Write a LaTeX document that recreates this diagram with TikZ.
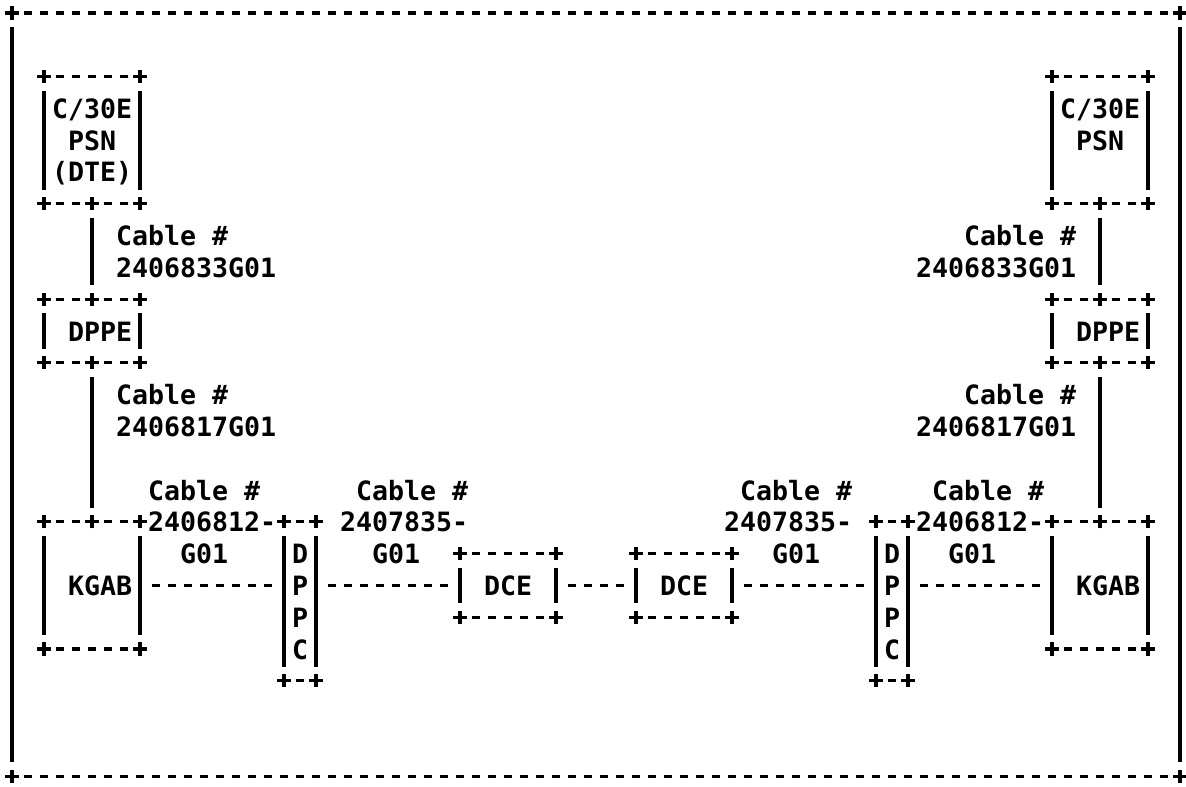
\documentclass[tikz,border=0pt]{standalone}
\usepackage{fontspec}
\newfontfamily\asc{DejaVu Sans Mono}
\tikzset{
  bxn/.style={draw=none,inner sep=0pt,outer sep=0pt,rectangle},
  hd/.style={line width=1.6pt,dash pattern=on 4pt off 4pt,shorten <=6pt,shorten >=6pt},
  vb/.style={line width=1.7pt,shorten <=7pt,shorten >=7pt},
  pmk/.style={line width=1.6pt},
  txt/.style={inner sep=0pt,outer sep=0pt,anchor=base west,font=\asc\bfseries\fontsize{13.3pt}{16pt}\selectfont}
}
% columns: x = 12 + 16 c ; rows: y = 13 + 31.8 r  (pixels, y downwards)
\newcommand\bx[5]{\node[bxn,minimum width={(#3-#2)*8pt},minimum height={(#5-#4)*15.9pt}] (#1) at ({12+8*(#2+#3)},{13+15.9*(#4+#5)}) {};}
\newcommand\plusat[1]{\draw[pmk] ([xshift=-3.3pt]#1) -- ([xshift=3.3pt]#1) ([yshift=-3.3pt]#1) -- ([yshift=3.3pt]#1);}
\newcommand\outl[1]{%
  \draw[hd] (#1.north west) -- (#1.north east);
  \draw[hd] (#1.south west) -- (#1.south east);
  \draw[vb] (#1.north west) -- (#1.south west);
  \draw[vb] (#1.north east) -- (#1.south east);
  \plusat{#1.north west}\plusat{#1.north east}\plusat{#1.south west}\plusat{#1.south east}}
\newcommand\tx[4]{\node[txt] (#1) at ({4+16*(#2)},{13+31.8*(#3)+10}) {#4};}
\begin{document}
\begin{tikzpicture}[x=0.5pt,y=-0.5pt]
\fill[white] (0,0) rectangle (1186,786);
\useasboundingbox (0,0) rectangle (1186,786);
% boxes: name, first col, last col, top row, bottom row
\bx{frame}{0}{73}{0}{24}
\bx{psnL}{2}{8}{2}{6}
\bx{dppeL}{2}{8}{9}{11}
\bx{kgabL}{2}{8}{16}{20}
\bx{dppcL}{17}{19}{16}{21}
\bx{dceL}{28}{34}{17}{19}
\bx{dceR}{39}{45}{17}{19}
\bx{dppcR}{54}{56}{16}{21}
\bx{kgabR}{65}{71}{16}{20}
\bx{dppeR}{65}{71}{9}{11}
\bx{psnR}{65}{71}{2}{6}
\foreach \b in {frame,psnL,dppeL,kgabL,dppcL,dceL,dceR,dppcR,kgabR,dppeR,psnR}{\outl{\b}}
% vertical connectors
\draw[vb] (psnL.south) -- (dppeL.north);
\draw[vb] (dppeL.south) -- (kgabL.north);
\draw[vb] (psnR.south) -- (dppeR.north);
\draw[vb] (dppeR.south) -- (kgabR.north);
\foreach \b in {dppeL,kgabL,dppeR,kgabR}{\plusat{\b.north}}
\foreach \b in {psnL,dppeL,psnR,dppeR}{\plusat{\b.south}}
% horizontal connectors (row 18)
\coordinate (rowP) at (0,{13+31.8*18});
\draw[hd] (kgabL.east |- rowP) -- (dppcL.west |- rowP);
\draw[hd] (dppcL.east |- rowP) -- (dceL.west |- rowP);
\draw[hd] (dceL.east |- rowP) -- (dceR.west |- rowP);
\draw[hd] (dceR.east |- rowP) -- (dppcR.west |- rowP);
\draw[hd] (dppcR.east |- rowP) -- (kgabR.west |- rowP);
% left texts: name, first col, row, text
\tx{a1}{3}{3}{C/30E}
\tx{a2}{4}{4}{PSN}
\tx{a3}{3}{5}{(DTE)}
\tx{a4}{7}{7}{Cable \#}
\tx{a5}{7}{8}{2406833G01}
\tx{a6}{4}{10}{DPPE}
\tx{a7}{7}{12}{Cable \#}
\tx{a8}{7}{13}{2406817G01}
\tx{a9}{9}{15}{Cable \#}
\tx{a10}{9}{16}{2406812-}
\tx{a11}{11}{17}{G01}
\tx{a12}{4}{18}{KGAB}
\tx{a13}{18}{17}{D}
\tx{a14}{18}{18}{P}
\tx{a15}{18}{19}{P}
\tx{a16}{18}{20}{C}
\tx{a17}{22}{15}{Cable \#}
\tx{a18}{21}{16}{2407835-}
\tx{a19}{23}{17}{G01}
\tx{a20}{30}{18}{DCE}
% right texts
\tx{b20}{41}{18}{DCE}
\tx{b17}{46}{15}{Cable \#}
\tx{b18}{45}{16}{2407835-}
\tx{b19}{48}{17}{G01}
\tx{b13}{55}{17}{D}
\tx{b14}{55}{18}{P}
\tx{b15}{55}{19}{P}
\tx{b16}{55}{20}{C}
\tx{b9}{58}{15}{Cable \#}
\tx{b10}{57}{16}{2406812-}
\tx{b11}{59}{17}{G01}
\tx{b12}{67}{18}{KGAB}
\tx{b1}{66}{3}{C/30E}
\tx{b2}{67}{4}{PSN}
\tx{b4}{60}{7}{Cable \#}
\tx{b5}{57}{8}{2406833G01}
\tx{b6}{67}{10}{DPPE}
\tx{b7}{60}{12}{Cable \#}
\tx{b8}{57}{13}{2406817G01}
\end{tikzpicture}
\end{document}
